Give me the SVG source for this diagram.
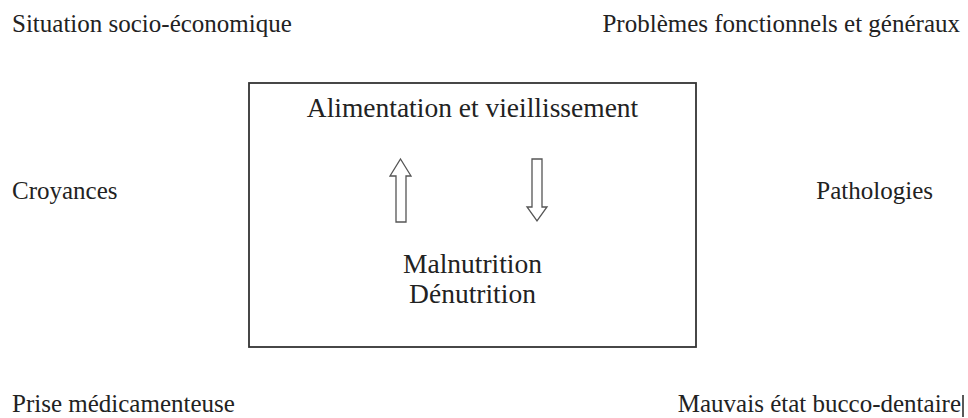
<svg xmlns="http://www.w3.org/2000/svg" width="968" height="418" viewBox="0 0 968 418" font-family="'Liberation Serif', 'Times New Roman', 'DejaVu Serif', serif">
  <style>
    text { font-family: "Liberation Serif", "Times New Roman", "DejaVu Serif", serif; fill: #222; }
    .lbl { font-size: 25px; }
    .ctr { font-size: 27.5px; text-anchor: middle; }
    .box { fill: #fff; stroke: #333; stroke-width: 1.8; }
    .arr { fill: #fff; stroke: #555; stroke-width: 1.3; stroke-linejoin: miter; }
  </style>
  <rect width="968" height="418" fill="#fff"/>
  <g id="situation"><text class="lbl" x="12" y="32">Situation socio-économique</text></g>
  <g id="problemes"><text class="lbl" x="960" y="32" text-anchor="end">Problèmes fonctionnels et généraux</text></g>
  <g id="croyances"><text class="lbl" x="12" y="199">Croyances</text></g>
  <g id="pathologies"><text class="lbl" x="933" y="199" text-anchor="end">Pathologies</text></g>
  <g id="prise"><text class="lbl" x="12" y="412">Prise médicamenteuse</text></g>
  <g id="bucco">
    <text class="lbl" x="961" y="412" text-anchor="end">Mauvais état bucco-dentaire</text>
    <line x1="963" y1="395" x2="963" y2="417" stroke="#222" stroke-width="1.5"/>
  </g>
  <g id="center">
    <rect class="box" x="249" y="83" width="447" height="264"/>
    <text class="ctr" x="472.5" y="117">Alimentation et vieillissement</text>
    <text class="ctr" x="472.5" y="273">Malnutrition</text>
    <text class="ctr" x="472.5" y="303">Dénutrition</text>
  </g>
  <g id="connectors">
    <path class="arr" d="M400.5,159 L411,176 L406,176 L406,222 L396,222 L396,176 L390,176 Z"/>
    <path class="arr" d="M532,159 L542,159 L542,207 L547,207 L537,221 L527,207 L532,207 Z"/>
  </g>
</svg>
